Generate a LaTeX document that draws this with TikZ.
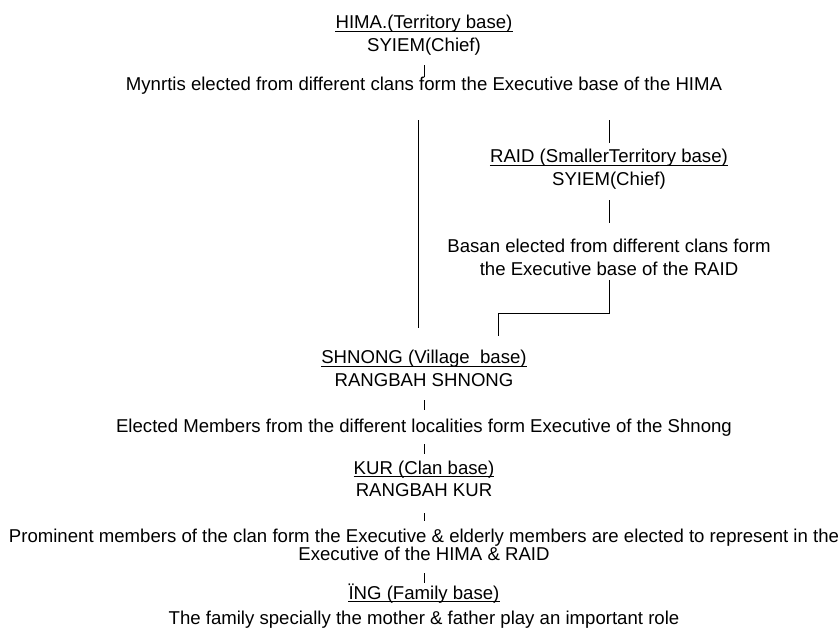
\documentclass[tikz,border=0pt]{standalone}
\usepackage{fontspec}
\setmainfont{Liberation Sans}
\begin{document}
\begin{tikzpicture}[x=1pt,y=-1pt,
  txt/.style={inner sep=0pt, anchor=base, font=\fontsize{18.6}{22}\selectfont, text height=13.5pt, text depth=4pt},
  link/.style={draw=black, line width=0.9pt},
  ulline/.style={draw=black, line width=1pt}]
\useasboundingbox[fill=white] (0,0) rectangle (839,631);
% texts
\node[txt] (hima) at (424,29) {HIMA.(Territory base)};
\node[txt] (syA) at (424,52) {SYIEM(Chief)};
\node[txt] (myn) at (424,91) {Mynrtis elected from different clans form the Executive base of the HIMA};
\node[txt] (raid) at (609,163) {RAID (SmallerTerritory base)};
\node[txt] (syB) at (609,186) {SYIEM(Chief)};
\node[txt] (basA) at (609,253) {Basan elected from different clans form};
\node[txt] (basB) at (609,276) {the Executive base of the RAID};
\node[txt] (shn) at (424,364) {SHNONG (Village~~base)};
\node[txt] (rsh) at (424,386) {RANGBAH SHNONG};
\node[txt] (elec) at (424,432) {Elected Members from the different localities form Executive of the Shnong};
\node[txt] (kur) at (424,474) {KUR (Clan base)};
\node[txt] (rkur) at (424,496) {RANGBAH KUR};
\node[txt] (promA) at (424,542) {Prominent members of the clan form the Executive \& elderly members are elected to represent in the};
\node[txt] (promB) at (424,560) {Executive of the HIMA \& RAID};
\node[txt] (ing) at (424,599) {ÏNG (Family base)};
\node[txt] (fam) at (424,624) {The family specially the mother \& father play an important role};
% underlines
\foreach \n in {hima,raid,shn,kur,ing}
  \draw[ulline] ([yshift=-2.5pt]\n.base west) -- ([yshift=-2.5pt]\n.base east);
% connectors
\draw[link, shorten <=9pt, shorten >=0.5pt] (syA.south) -- (syA.south |- myn.north);
\draw[link, shorten <=25pt, shorten >=22.5pt] ([xshift=-6pt]myn.south) -- ([xshift=-6pt]myn.south |- shn.north);
\draw[link, shorten <=25pt, shorten >=6.5pt] (myn.south -| raid.north) -- (raid.north);
\draw[link, shorten <=10pt, shorten >=16.5pt] (syB.south) -- (syB.south |- basA.north);
\coordinate (elbow) at (498,313);
\draw[link, shorten >=14.5pt] (basB.south) -- (basB.south |- elbow) -- (elbow) -- (elbow |- shn.north);
\draw[link, shorten <=10pt, shorten >=8.5pt] (rsh.south) -- (rsh.south |- elec.north);
\draw[link, shorten <=8pt, shorten >=6.5pt] (elec.south) -- (elec.south |- kur.north);
\draw[link, shorten <=13pt, shorten >=7.5pt] (rkur.south) -- (rkur.south |- promA.north);
\draw[link, shorten <=9pt, shorten >=2.5pt] (promB.south) -- (promB.south |- ing.north);
\end{tikzpicture}
\end{document}
